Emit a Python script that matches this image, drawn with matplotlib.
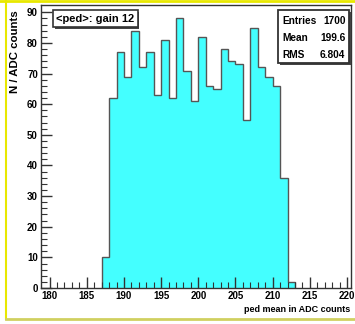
import numpy as np
import matplotlib
matplotlib.use("Agg")
import matplotlib.pyplot as plt
import matplotlib.patheffects as pe
from matplotlib.lines import Line2D
from matplotlib.patches import Rectangle

# histogram data (1 ADC count bins)
bin_edges = np.arange(187, 214)
counts = [10, 62, 77, 69, 84, 72, 77, 63, 81, 62, 88, 71, 61, 82,
          66, 65, 78, 74, 73, 55, 85, 72, 69, 66, 36, 2]

title = "<ped>: gain 12"
stat_names = ["Entries", "Mean", "RMS"]
stat_values = ["1700", "199.6", "6.804"]

plt.rcParams['font.family'] = ['Liberation Sans', 'DejaVu Sans']
plt.rcParams['font.weight'] = 'bold'

fig = plt.figure(figsize=(3.55, 3.24), dpi=100)
ax = fig.add_axes([0.1146, 0.1111, 0.8733, 0.8735])

# filled histogram + outline
ax.stairs(counts, bin_edges, fill=True, color='#44ffff', baseline=0)
ax.stairs(counts, bin_edges, color='#555555', linewidth=1.0, baseline=0)

ax.set_xlim(178.8, 220.5)
ax.set_ylim(0, 92.4)

# ROOT-like ticks: inside, only left/bottom
ax.set_xticks(np.arange(180, 221, 5))
ax.set_xticks(np.arange(180, 221, 1), minor=True)
ax.set_yticks(np.arange(0, 91, 10))
ax.set_yticks(np.arange(0, 91, 2), minor=True)
ax.tick_params(which='both', direction='in', top=False, right=False,
               labelsize=7, color='#333333', pad=2)
ax.tick_params(which='major', length=8, width=1.0)
ax.tick_params(which='minor', length=4, width=0.8)
for lab in ax.get_xticklabels() + ax.get_yticklabels():
    lab.set_fontweight('bold')

for s in ax.spines.values():
    s.set_color('#333333')
    s.set_linewidth(1.0)

ax.set_ylabel("N / ADC counts", fontsize=8.2, fontweight='bold', loc='top')
ax.yaxis.set_label_coords(-0.067, 0.982)
ax.set_xlabel("ped mean in ADC counts", fontsize=6.5, fontweight='bold', loc='right', labelpad=3)

# title box with shadow
t = ax.text(0.05, 0.952, title, transform=ax.transAxes, fontsize=8, fontweight='bold',
            ha='left', va='center',
            bbox=dict(boxstyle='square,pad=0.3', facecolor='white', edgecolor='#333333', linewidth=1.2))
t.get_bbox_patch().set_path_effects([
    pe.SimplePatchShadow(offset=(1.2, -1.2), shadow_rgbFace='#444444', alpha=1.0), pe.Normal()])

# stats box
bx0, by0 = 0.765, 0.795
sbox = Rectangle((bx0, by0), 0.995 - bx0, 0.187, transform=ax.transAxes,
                 facecolor='white', edgecolor='#333333', linewidth=1.3, zorder=5)
sbox.set_path_effects([pe.SimplePatchShadow(offset=(1.2, -1.2), shadow_rgbFace='#444444', alpha=1.0),
                       pe.Normal()])
ax.add_patch(sbox)
for i, (n, v) in enumerate(zip(stat_names, stat_values)):
    y = 0.944 - i * 0.061
    ax.text(bx0 + 0.014, y, n, transform=ax.transAxes, fontsize=7.3, fontweight='bold',
            ha='left', va='center', zorder=6)
    ax.text(0.983, y, v, transform=ax.transAxes, fontsize=7.3, fontweight='bold',
            ha='right', va='center', zorder=6)

# yellow canvas border
fig.add_artist(Line2D([0, 1], [0.996, 0.996], transform=fig.transFigure, color='#e8e800', linewidth=2))
fig.add_artist(Line2D([0.0155, 0.0155], [0.015, 1], transform=fig.transFigure, color='#e8e800', linewidth=1.5))
fig.add_artist(Line2D([0.0155, 1], [0.015, 0.015], transform=fig.transFigure, color='#d0d060', linewidth=2))

fig.savefig("out.png", dpi=100)
